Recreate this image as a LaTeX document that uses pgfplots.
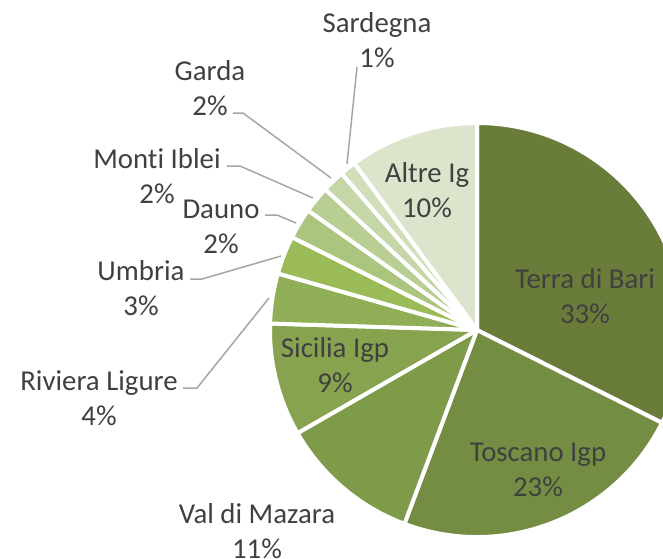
\documentclass[border=0pt]{standalone}
\usepackage{pgfplots}
\pgfplotsset{compat=1.18}
\usepackage{fontspec}
\setmainfont{Carlito}[Ligatures=NoCommon]

\definecolor{cA}{HTML}{6A7C3A}
\definecolor{cB}{HTML}{748D42}
\definecolor{cC}{HTML}{7E9B49}
\definecolor{cD}{HTML}{87A34F}
\definecolor{cE}{HTML}{90AE56}
\definecolor{cF}{HTML}{9BBB59}
\definecolor{cG}{HTML}{ABC47E}
\definecolor{cH}{HTML}{B8CE93}
\definecolor{cI}{HTML}{C5D6A7}
\definecolor{cJ}{HTML}{D0DEB9}
\definecolor{cK}{HTML}{DCE5CC}
\definecolor{txt}{HTML}{404040}
\definecolor{lead}{HTML}{A6A6A6}

\tikzset{lbl/.style={align=center, text=txt, font=\fontsize{14.4pt}{17.5pt}\selectfont, inner sep=0pt}}

\begin{document}
\begin{tikzpicture}
\begin{axis}[
  scale only axis, width=331.5pt, height=279pt,
  xmin=0, xmax=663, ymin=0, ymax=558, y dir=reverse,
  hide axis, clip=true,
]
% pie slices, clockwise from 12 o'clock
\xdef\cum{0}
\foreach \v/\c in {32.4/cA, 23.3/cB, 11.0/cC, 8.8/cD, 3.9/cE, 3.0/cF, 2.4/cG, 2.1/cH, 1.75/cI, 1.25/cJ, 10.1/cK}{
  \pgfmathsetmacro\aS{90-3.6*\cum}
  \pgfmathsetmacro\aE{90-3.6*(\cum+\v)}
  \edef\temp{\noexpand\fill[\c, draw=white, line width=2pt, line join=round]
    (axis cs:477,330) -- ++(\aS:103.5pt) arc[start angle=\aS, end angle=\aE, radius=103.5pt] -- cycle;}
  \temp
  \pgfmathsetmacro\newcum{\cum+\v}
  \xdef\cum{\newcum}
}

% leader lines
\draw[lead, line width=0.75pt] (axis cs:357,67) -- (axis cs:347,164);
\draw[lead, line width=0.75pt] (axis cs:233,113) -- (axis cs:243,113) -- (axis cs:331,178);
\draw[lead, line width=0.75pt] (axis cs:227,166) -- (axis cs:240,166) -- (axis cs:313,198);
\draw[lead, line width=0.75pt] (axis cs:265,215) -- (axis cs:277,215) -- (axis cs:296,223);
\draw[lead, line width=0.75pt] (axis cs:190,279) -- (axis cs:202,279) -- (axis cs:281,256);
\draw[lead, line width=0.75pt] (axis cs:183,388) -- (axis cs:197,388) -- (axis cs:269,298);

% labels
\node[lbl] at (axis cs:585,296) {Terra di Bari\\33\%};
\node[lbl] at (axis cs:538,470) {Toscano Igp\\23\%};
\node[lbl] at (axis cs:257,531) {Val di Mazara\\11\%};
\node[lbl] at (axis cs:335,365) {Sicilia Igp\\9\%};
\node[lbl] at (axis cs:99,398) {Riviera Ligure\\4\%};
\node[lbl] at (axis cs:141,288) {Umbria\\3\%};
\node[lbl] at (axis cs:221,227) {Dauno\\2\%};
\node[lbl] at (axis cs:157,176) {Monti Iblei\\2\%};
\node[lbl] at (axis cs:210,88) {Garda\\2\%};
\node[lbl] at (axis cs:377,40) {Sardegna\\1\%};
\node[lbl] at (axis cs:427,190) {Altre Ig\\10\%};
\end{axis}
\pgfresetboundingbox
\useasboundingbox (0,0) rectangle (331.5pt,279pt);
\end{tikzpicture}
\end{document}
